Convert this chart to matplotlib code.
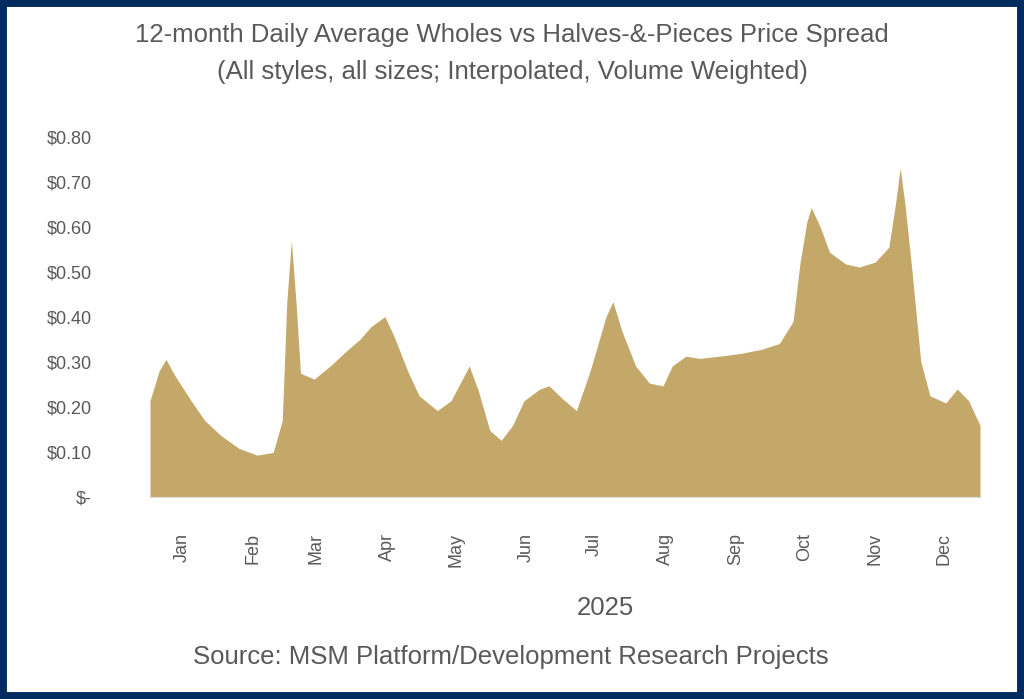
import numpy as np
import matplotlib
matplotlib.use("Agg")
import matplotlib.pyplot as plt
from matplotlib.patches import Rectangle

plt.rcParams['font.family'] = ['Liberation Sans', 'DejaVu Sans']

# Day offsets from 2025-01-01 and spread values ($/lb)
day_offsets = [0, 4, 7, 11, 18, 24, 31, 39, 47, 54, 58, 60, 62, 64, 66, 72, 79, 86, 92, 97,
               103, 107, 113, 118, 126, 132, 137, 140, 144, 149, 154, 159, 164, 171, 175, 181,
               187, 193, 200, 203, 207, 213, 219, 225, 229, 235, 241, 250, 259, 268, 276, 282,
               285, 288, 290, 294, 298, 305, 311, 318, 324, 327, 329, 331, 334, 338, 342, 349,
               354, 359, 363, 364]
spread = [0.214, 0.280, 0.306, 0.269, 0.214, 0.170, 0.137, 0.108, 0.093, 0.099, 0.170, 0.434,
          0.570, 0.434, 0.275, 0.262, 0.291, 0.324, 0.350, 0.379, 0.401, 0.357, 0.280, 0.225,
          0.192, 0.214, 0.262, 0.291, 0.236, 0.148, 0.126, 0.159, 0.214, 0.240, 0.247, 0.218,
          0.192, 0.280, 0.401, 0.434, 0.368, 0.291, 0.253, 0.247, 0.291, 0.313, 0.308, 0.313,
          0.319, 0.328, 0.341, 0.390, 0.518, 0.610, 0.643, 0.599, 0.544, 0.518, 0.511, 0.522,
          0.555, 0.654, 0.731, 0.654, 0.511, 0.302, 0.225, 0.209, 0.240, 0.214, 0.170, 0.160]

months = ['Jan', 'Feb', 'Mar', 'Apr', 'May', 'Jun', 'Jul', 'Aug', 'Sep', 'Oct', 'Nov', 'Dec']
year_label = '2025'
y_ticks = [0.0, 0.1, 0.2, 0.3, 0.4, 0.5, 0.6, 0.7, 0.8]

title_line1 = "12-month Daily Average Wholes vs Halves-&-Pieces Price Spread"
title_line2 = "(All styles, all sizes; Interpolated, Volume Weighted)"
source = "Source: MSM Platform/Development Research Projects"

TXT = '#595959'
FILL = '#C4A86A'

start = np.datetime64('2025-01-01')
dates = start + np.array(day_offsets).astype('timedelta64[D]')

W, H = 1024, 699
fig = plt.figure(figsize=(W / 100, H / 100), dpi=100)
ax = fig.add_axes([150 / W, 1 - 497 / H, (980 - 150) / W, (497 - 137) / H])

ax.fill_between(dates, spread, 0, color=FILL, linewidth=0)
ax.set_xlim(dates[0], dates[-1])
ax.set_ylim(0, 0.8)

ax.set_yticks(y_ticks)
ax.set_yticklabels(['$-' if v == 0 else f'${v:.2f}' for v in y_ticks])
ax.tick_params(axis='y', length=0, pad=42, labelsize=13, labelcolor=TXT)

mid = [np.datetime64(f'2025-{m:02d}-01') + np.timedelta64(14, 'D') for m in range(1, 13)]
ax.set_xticks(mid)
ax.set_xticklabels(months, rotation=90)
ax.tick_params(axis='x', length=0, pad=26, labelsize=13, labelcolor=TXT)

for s in ['top', 'right', 'left']:
    ax.spines[s].set_visible(False)
ax.spines['bottom'].set_color('#D9D9D9')

fig.text(605 / W, 1 - 608 / H, year_label, ha='center', va='center', fontsize=18.5, color=TXT)
fig.text(512 / W, 1 - 35 / H, title_line1, ha='center', va='center', fontsize=18.5, color=TXT)
fig.text(512 / W, 1 - 72 / H, title_line2, ha='center', va='center', fontsize=18.5, color=TXT)
fig.text(511 / W, 1 - 657 / H, source, ha='center', va='center', fontsize=18.5, color=TXT)

fig.patches.append(Rectangle((0, 0), 1, 1, transform=fig.transFigure, fill=False,
                             edgecolor='#002B5F', linewidth=10, zorder=10))

fig.savefig('out.png', dpi=100)
